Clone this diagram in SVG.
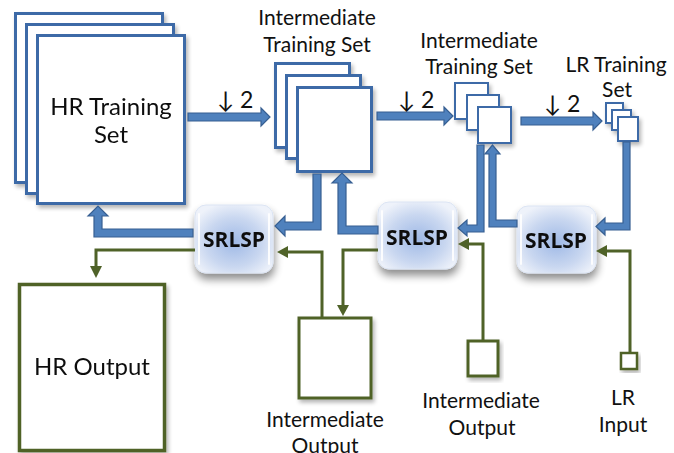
<svg xmlns="http://www.w3.org/2000/svg" width="674" height="453" viewBox="0 0 674 453">
<defs>
<radialGradient id="sg" cx="50%" cy="55%" r="60%">
<stop offset="0" stop-color="#9fb9e6"/>
<stop offset="0.6" stop-color="#c9d7f0"/>
<stop offset="1" stop-color="#eef2fa"/>
</radialGradient>
<filter id="sh" x="-30%" y="-30%" width="160%" height="170%">
<feGaussianBlur in="SourceAlpha" stdDeviation="4"/>
<feOffset dx="1" dy="6" result="b"/>
<feComponentTransfer><feFuncA type="linear" slope="0.45"/></feComponentTransfer>
<feMerge><feMergeNode/><feMergeNode in="SourceGraphic"/></feMerge>
</filter>
<filter id="sh2" x="-20%" y="-20%" width="140%" height="140%">
<feGaussianBlur in="SourceAlpha" stdDeviation="2"/>
<feOffset dx="2" dy="3" result="b"/>
<feComponentTransfer><feFuncA type="linear" slope="0.3"/></feComponentTransfer>
<feMerge><feMergeNode/><feMergeNode in="SourceGraphic"/></feMerge>
</filter>
</defs>
<style>
.t{font-family:Lato,"Open Sans","Liberation Sans",sans-serif;fill:#111;text-anchor:middle}
.lab{font-size:21px}
.big{font-size:24px}
.dn{font-size:23px}
.srl{font-family:"Open Sans",Lato,"Liberation Sans",sans-serif;font-weight:bold;font-size:21px;fill:#111;text-anchor:middle}
.stk{fill:#fff;stroke:#3d6ba7;stroke-width:3}
.stk2{fill:#fff;stroke:#3d6ba7;stroke-width:2}
.ba{fill:#4f81bd;stroke:#375f92;stroke-width:1.2;stroke-linejoin:miter}
.gl{fill:none;stroke:#4f6228;stroke-width:3}
.gh{fill:#4f6228}
.gr{fill:#fff;stroke:#4f6228}
.box{fill:url(#sg);stroke:#dbe4f3;stroke-width:1}
.hl{stroke:#fff;stroke-width:2;stroke-linecap:round;opacity:0.9}
</style>

<g id="hr-training-set" filter="url(#sh2)">
<rect class="stk" x="15.5" y="13.5" width="147" height="169"/>
<rect class="stk" x="26.5" y="24.5" width="147" height="169"/>
<rect class="stk" x="37.5" y="35.5" width="147" height="168"/>
<text class="t big" x="111" y="115">HR Training</text>
<text class="t big" x="111" y="143">Set</text>
</g>

<g id="intermediate-training-set-1">
<text class="t lab" x="317" y="25">Intermediate</text>
<text class="t lab" x="317" y="52">Training Set</text>
<g filter="url(#sh2)">
<rect class="stk" x="275.5" y="63.5" width="74" height="84"/>
<rect class="stk" x="286.5" y="75.5" width="74" height="83"/>
<rect class="stk" x="297.5" y="87.5" width="74" height="84"/>
</g>
</g>

<g id="intermediate-training-set-2">
<text class="t lab" x="479" y="48">Intermediate</text>
<text class="t lab" x="479" y="74">Training Set</text>
<g filter="url(#sh2)">
<rect class="stk2" x="455" y="83" width="33" height="36"/>
<rect class="stk2" x="467" y="95" width="32" height="35"/>
<rect class="stk2" x="478" y="107" width="33" height="36"/>
</g>
</g>

<g id="lr-training-set">
<text class="t lab" x="616" y="72">LR Training</text>
<text class="t lab" x="617" y="97">Set</text>
<g filter="url(#sh2)">
<rect class="stk2" x="606" y="103" width="17" height="20" stroke-width="1.5"/>
<rect class="stk2" x="612" y="110" width="19" height="20" stroke-width="1.5"/>
<rect class="stk2" x="618" y="117" width="20" height="24" stroke-width="1.5"/>
</g>
</g>

<g id="srlsp-1" filter="url(#sh)">
<rect class="box" x="195" y="205" width="78" height="68" rx="11"/>
<line class="hl" x1="199" y1="214" x2="199" y2="264"/>
<line class="hl" x1="269" y1="214" x2="269" y2="264"/>
<text class="srl" x="234" y="247">SRLSP</text>
</g>
<g id="srlsp-2" filter="url(#sh)">
<rect class="box" x="378" y="202" width="79" height="67" rx="11"/>
<line class="hl" x1="382" y1="211" x2="382" y2="260"/>
<line class="hl" x1="453" y1="211" x2="453" y2="260"/>
<text class="srl" x="417" y="245">SRLSP</text>
</g>
<g id="srlsp-3" filter="url(#sh)">
<rect class="box" x="517" y="206" width="79" height="67" rx="11"/>
<line class="hl" x1="521" y1="215" x2="521" y2="264"/>
<line class="hl" x1="592" y1="215" x2="592" y2="264"/>
<text class="srl" x="556" y="248">SRLSP</text>
</g>

<g id="hr-output" filter="url(#sh2)">
<rect class="gr" x="19.5" y="284.5" width="145" height="166" stroke-width="3.5"/>
<text class="t big" x="92" y="375">HR Output</text>
</g>
<g id="intermediate-output-1">
<rect class="gr" x="299" y="318" width="72" height="80" stroke-width="3" filter="url(#sh2)"/>
<text class="t lab" x="325" y="427">Intermediate</text>
<text class="t lab" x="325" y="453">Output</text>
</g>
<g id="intermediate-output-2">
<rect class="gr" x="468" y="341" width="30" height="35" stroke-width="3" filter="url(#sh2)"/>
<text class="t lab" x="481" y="408">Intermediate</text>
<text class="t lab" x="482" y="435">Output</text>
</g>
<g id="lr-input">
<rect class="gr" x="621" y="353" width="16" height="16" stroke-width="2.5" filter="url(#sh2)"/>
<text class="t lab" x="623" y="405">LR</text>
<text class="t lab" x="623" y="432">Input</text>
</g>

<g id="connectors">
<path class="ba" d="M188,113 H261 V108 L270,117 L261,126 V121 H188 Z"/>
<path class="ba" d="M377,112 H444 V107 L453,116 L444,125 V120 H377 Z"/>
<path class="ba" d="M521,117 H593 V112 L602,121 L593,130 V125 H521 Z"/>
<text class="t dn" x="235" y="108">↓ 2</text>
<text class="t dn" x="416" y="108">↓ 2</text>
<text class="t dn" x="562" y="112">↓ 2</text>
<path class="ba" d="M193,229 H102 V216 H108 L98,206 L88,216 H94 V237 H193 Z"/>
<path class="ba" d="M313,174 H321 V230 H285 V236 L275,226 L285,216 V222 H313 Z"/>
<path class="ba" d="M378,226 H346 V183 H352 L342,173 L332,183 H338 V234 H378 Z"/>
<path class="ba" d="M477,145 H484 V232 H467 V236 L458,228 L467,220 V225 H477 Z"/>
<path class="ba" d="M517,220 H496 V154 H500 L492.5,145 L485,154 H489 V227 H517 Z"/>
<path class="ba" d="M623,142 H630 V230 H605 V235 L596,226.5 L605,218 V223 H623 Z"/>
<path class="gl" d="M195,250 H96 V267"/>
<polygon class="gh" points="90,266 102,266 96,278"/>
<path class="gl" d="M322,317 V252 H287"/>
<polygon class="gh" points="288,246 288,258 277,252"/>
<path class="gl" d="M378,250 H343 V306"/>
<polygon class="gh" points="337,305 349,305 343,316"/>
<path class="gl" d="M483,340 V244 H469"/>
<polygon class="gh" points="469,238 469,250 458,244"/>
<path class="gl" d="M630,352 V251 H607"/>
<polygon class="gh" points="607,245 607,257 596,251"/>
</g>
</svg>
